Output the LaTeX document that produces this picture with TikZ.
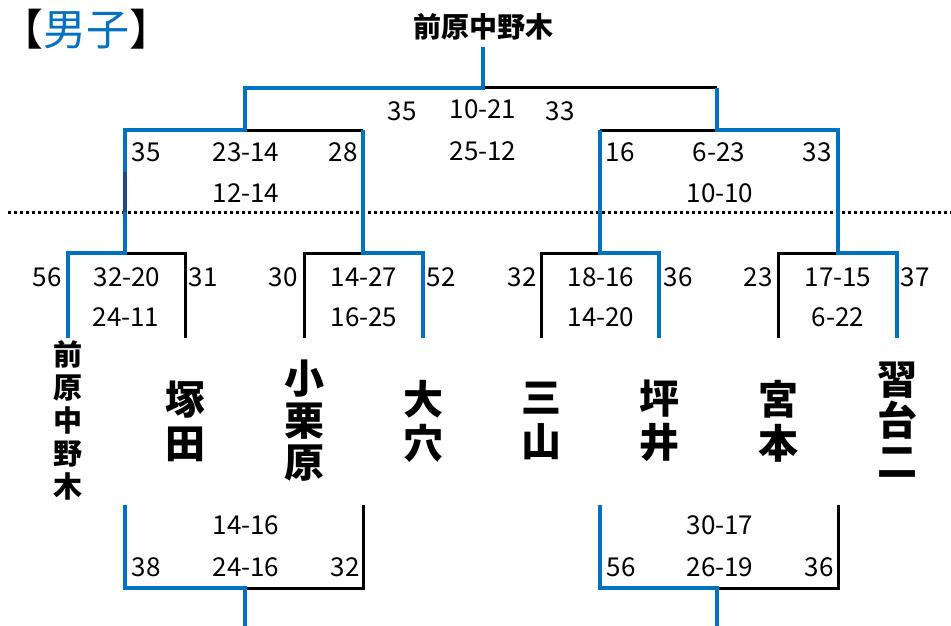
\documentclass[tikz,border=0pt]{standalone}
\usepackage{fontspec}
\setmainfont{Noto Sans CJK JP}
\definecolor{blue1}{RGB}{0, 112, 192}
\definecolor{navy1}{RGB}{31, 73, 125}
\usepackage{tikz}

\begin{document}
\begin{tikzpicture}[x=1pt, y=-1pt,
  win/.style={draw=blue1, line width=4.6pt},
  lose/.style={draw=black, line width=3pt},
  score/.style={font=\fontsize{26}{26}\selectfont, inner sep=0pt},
  team/.style={font=\fontsize{40}{44}\selectfont\bfseries, align=center, inner sep=0pt}]
  \useasboundingbox (0,0) rectangle (951,626);

  % heading and champion
  \node[font=\fontsize{43}{43}\selectfont, inner sep=0pt] (heading) at (86.5,29) {【\textcolor{blue1}{男子}】};
  \node[font=\fontsize{28}{28}\selectfont\bfseries, inner sep=0pt] (champion) at (483,27) {前原中野木};

  % bracket points
  \coordinate (f0) at (483,47);  \coordinate (f) at (483,88);
  \coordinate (fL) at (245,88);  \coordinate (fR) at (717,88);
  \coordinate (sL) at (245,130); \coordinate (sR) at (717,130);
  \foreach \i/\x in {1/125, 2/363, 3/600, 4/838}{
    \coordinate (s\i) at (\x,130);
    \coordinate (m\i) at (\x,253);
    \coordinate (b\i) at (\x,505);
    \coordinate (c\i) at (\x,588);
  }
  \foreach \i/\x in {1/68, 2/185, 3/304, 4/423, 5/541, 6/659, 7/778, 8/897}{
    \coordinate (u\i) at (\x,253);
    \coordinate (t\i) at (\x,338);
  }
  \coordinate (d1) at (245,588); \coordinate (e1) at (245,626);
  \coordinate (d2) at (717,588); \coordinate (e2) at (717,626);
  \coordinate (cutL) at (8,212); \coordinate (cutR) at (951,212);
  \coordinate (mark) at (125,172);

  % dotted divider
  \draw[line width=3pt, dash pattern=on 3pt off 3pt] (cutL) -- (cutR);

  % losing sides
  \draw[lose] (m1) -- (u2) -- (t2);
  \draw[lose] (m2) -- (u3) -- (t3);
  \draw[lose] (m3) -- (u5) -- (t5);
  \draw[lose] (m4) -- (u7) -- (t7);
  \draw[lose] (sL) -- (s2);
  \draw[lose] (s3) -- (sR);
  \draw[lose] (f) -- (fR);
  \draw[lose] (d1) -- (c2) -- (b2);
  \draw[lose] (d2) -- (c4) -- (b4);

  % winning sides
  \draw[win] (t1) -- (u1) -- (m1) -- (s1) -- (sL) -- (fL) -- (f) -- (f0);
  \draw[win] (t4) -- (u4) -- (m2) -- (s2);
  \draw[win] (t6) -- (u6) -- (m3) -- (s3);
  \draw[win] (t8) -- (u8) -- (m4) -- (s4) -- (sR) -- (fR);
  \draw[win] (b1) -- (c1) -- (d1) -- (e1);
  \draw[win] (b3) -- (c3) -- (d2) -- (e2);
  \draw[win, draw=navy1] (mark) -- (s1 |- cutL);

  % final
  \node[score] (fin1) at (402,111) {35};
  \node[score] (fin2) at (483,109) {10-21};
  \node[score] (fin3) at (560,111) {33};
  \node[score] (fin4) at (483,151) {25-12};

  % semifinals
  \node[score] (semL1) at (146,152) {35};
  \node[score] (semL2) at (246,152) {23-14};
  \node[score] (semL3) at (343,152) {28};
  \node[score] (semL4) at (246,193) {12-14};
  \node[score] (semR1) at (620,152) {16};
  \node[score] (semR2) at (719,152) {6-23};
  \node[score] (semR3) at (817,152) {33};
  \node[score] (semR4) at (720,193) {10-10};

  % first round
  \node[score] (rnd1a) at (47,277) {56};
  \node[score] (rnd1b) at (127,277) {32-20};
  \node[score] (rnd1c) at (203,277) {31};
  \node[score] (rnd1d) at (126,317) {24-11};
  \node[score] (rnd2a) at (283,277) {30};
  \node[score] (rnd2b) at (364,277) {14-27};
  \node[score] (rnd2c) at (441,277) {52};
  \node[score] (rnd2d) at (364,317) {16-25};
  \node[score] (rnd3a) at (522,277) {32};
  \node[score] (rnd3b) at (601,277) {18-16};
  \node[score] (rnd3c) at (678,277) {36};
  \node[score] (rnd3d) at (601,317) {14-20};
  \node[score] (rnd4a) at (758,277) {23};
  \node[score] (rnd4b) at (838,277) {17-15};
  \node[score] (rnd4c) at (915,277) {37};
  \node[score] (rnd4d) at (838,317) {6-22};

  % teams
  \node[team, font=\fontsize{29}{33}\selectfont\bfseries] (maebara) at (68,420) {前\\原\\中\\野\\木};
  \node[team] (tsukada) at (185,421) {塚\\田};
  \node[team, font=\fontsize{40}{42}\selectfont\bfseries] (oguri) at (304,421) {小\\栗\\原};
  \node[team] (oana) at (423,421) {大\\穴};
  \node[team] (sanzan) at (541,421) {三\\山};
  \node[team] (tsuboi) at (659,421) {坪\\井};
  \node[team] (miyamoto) at (778,421) {宮\\本};
  \node[team, font=\fontsize{40}{41}\selectfont\bfseries] (narashino) at (897,420) {習\\台\\二};

  % placing bouts
  \node[score] (plc1a) at (246,525) {14-16};
  \node[score] (plc1b) at (146,567) {38};
  \node[score] (plc1c) at (246,567) {24-16};
  \node[score] (plc1d) at (345,567) {32};
  \node[score] (plc2a) at (720,525) {30-17};
  \node[score] (plc2b) at (621,567) {56};
  \node[score] (plc2c) at (720,567) {26-19};
  \node[score] (plc2d) at (819,567) {36};
\end{tikzpicture}
\end{document}
